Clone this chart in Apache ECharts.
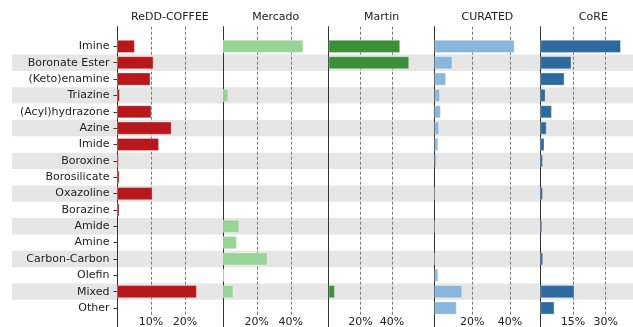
<!DOCTYPE html>
<html>
<head>
<meta charset="utf-8">
<script src="https://cdn.jsdelivr.net/npm/echarts@6/dist/echarts.min.js"></script>
<style>
  html, body { margin: 0; padding: 0; background: #fff; }
  #chart { width: 633px; height: 327px; }
</style>
</head>
<body>
<div id="chart"></div>
<script>
// Linkage categories, top to bottom
const categories = [
  'Imine', 'Boronate Ester', '(Keto)enamine', 'Triazine', '(Acyl)hydrazone',
  'Azine', 'Imide', 'Boroxine', 'Borosilicate', 'Oxazoline', 'Borazine',
  'Amide', 'Amine', 'Carbon-Carbon', 'Olefin', 'Mixed', 'Other'
];

// Dataset names (one panel each)
const datasets = ['ReDD-COFFEE', 'Mercado', 'Martin', 'CURATED', 'CoRE'];

// Share of structures per linkage, in percent
const reddCoffee = [5.2, 10.7, 9.8, 0.8, 10.1, 16.0, 12.3, 0.5, 0.7, 10.4, 0.7, 0, 0, 0, 0, 23.4, 0];
const mercado    = [47.3, 0, 0, 3.2, 0, 0, 0, 0, 0, 0, 0, 9.6, 8.1, 26.3, 0.8, 6.1, 0];
const martin     = [45.0, 50.7, 0, 0, 0, 0, 0, 0, 0, 0, 0, 0, 0, 0, 0, 3.8, 0];
const curated    = [42.4, 9.4, 6.0, 2.8, 3.2, 2.3, 1.9, 1.1, 0, 0.4, 0, 0.4, 0, 0.4, 1.9, 14.6, 11.7];
const core       = [36.9, 14.2, 11.0, 2.3, 5.2, 2.8, 1.8, 1.1, 0, 1.1, 0, 0.8, 0, 1.2, 0, 15.6, 6.4];

// Axis range and tick step of each panel
const panelMax  = [31.1, 62.3, 66.8, 56.2, 48.6];
const tickSteps = [10, 20, 20, 20, 15];

const colors = ['#b8171c', '#98d495', '#3b8f39', '#89b6dc', '#2f6a9f'];
const values = [reddCoffee, mercado, martin, curated, core];

const FONT = 'DejaVu Sans';
const PANEL_LEFT = 117;
const PANEL_W = 105.85;
const ROW_TOP = 38.2;
const ROW_BOTTOM = 10.8;
const SPINE_TOP = 26.7;

const grid = [], xAxis = [], yAxis = [], series = [], title = [];

// Alternating row shading across the whole figure
grid.push({ left: 12, right: -40, top: ROW_TOP, bottom: ROW_BOTTOM, outerBoundsMode: 'none' });
xAxis.push({ gridIndex: 0, type: 'value', min: 0, max: 1, show: false });
yAxis.push({ gridIndex: 0, type: 'category', data: categories, inverse: true, show: false });
series.push({
  type: 'bar', xAxisIndex: 0, yAxisIndex: 0,
  data: categories.map((c, i) => (i % 2 ? 1 : 0)),
  barWidth: '100%', itemStyle: { color: '#e6e6e6' },
  silent: true, z: -1
});

datasets.forEach((name, p) => {
  const left = PANEL_LEFT + p * PANEL_W;
  const scale = PANEL_W / panelMax[p];
  const guideMax = tickSteps[p] * 2.5;

  // Bars
  const gA = grid.length;
  grid.push({ left: left, width: PANEL_W, top: ROW_TOP, bottom: ROW_BOTTOM, outerBoundsMode: 'none' });
  xAxis.push({ gridIndex: gA, type: 'value', min: 0, max: panelMax[p], show: false });
  yAxis.push({
    gridIndex: gA, type: 'category', data: categories, inverse: true,
    axisLine: { show: false },
    axisTick: { show: p === 0, alignWithLabel: true, length: 3.5, lineStyle: { color: '#333', width: 1 } },
    axisLabel: { show: p === 0, margin: 7.5, fontFamily: FONT, fontSize: 11, color: '#222' },
    splitLine: { show: false }
  });
  series.push({
    type: 'bar', name: name, xAxisIndex: gA, yAxisIndex: gA,
    data: values[p].map(v => (v > 0 ? v : '-')),
    barWidth: '78%',
    itemStyle: { color: colors[p], borderColor: 'rgba(255,255,255,0.55)', borderWidth: 0.6 },
    z: 3
  });

  // Left spine and dashed guides with tick labels
  const gB = grid.length;
  grid.push({ left: left, width: guideMax * scale, top: SPINE_TOP, bottom: -10, outerBoundsMode: 'none' });
  xAxis.push({
    gridIndex: gB, type: 'value', min: 0, max: guideMax, interval: tickSteps[p],
    axisLine: { show: false }, axisTick: { show: false },
    splitLine: {
      show: true, showMinLine: false, showMaxLine: false,
      lineStyle: { color: '#777', type: [3, 2], width: 1 }
    },
    axisLabel: {
      inside: true, showMinLabel: false, showMaxLabel: false, margin: 14.8,
      verticalAlign: 'middle', fontFamily: FONT, fontSize: 11, color: '#222',
      backgroundColor: '#fff', padding: [1, 1],
      formatter: v => v + '%'
    }
  });
  yAxis.push({
    gridIndex: gB, type: 'value', min: 0, max: 1,
    axisLine: { show: true, lineStyle: { color: '#333', width: 1 } },
    axisTick: { show: false }, axisLabel: { show: false }, splitLine: { show: false }
  });

  title.push({
    text: name, left: left + PANEL_W / 2, top: 11.5, textAlign: 'center', padding: 0,
    textStyle: { fontFamily: FONT, fontSize: 11, fontWeight: 'normal', color: '#222', lineHeight: 11 }
  });
});

const chart = echarts.init(document.getElementById('chart'), null, { renderer: 'canvas' });
chart.setOption({
  animation: false,
  backgroundColor: '#fff',
  title: title,
  grid: grid,
  xAxis: xAxis,
  yAxis: yAxis,
  series: series
});
</script>
</body>
</html>
